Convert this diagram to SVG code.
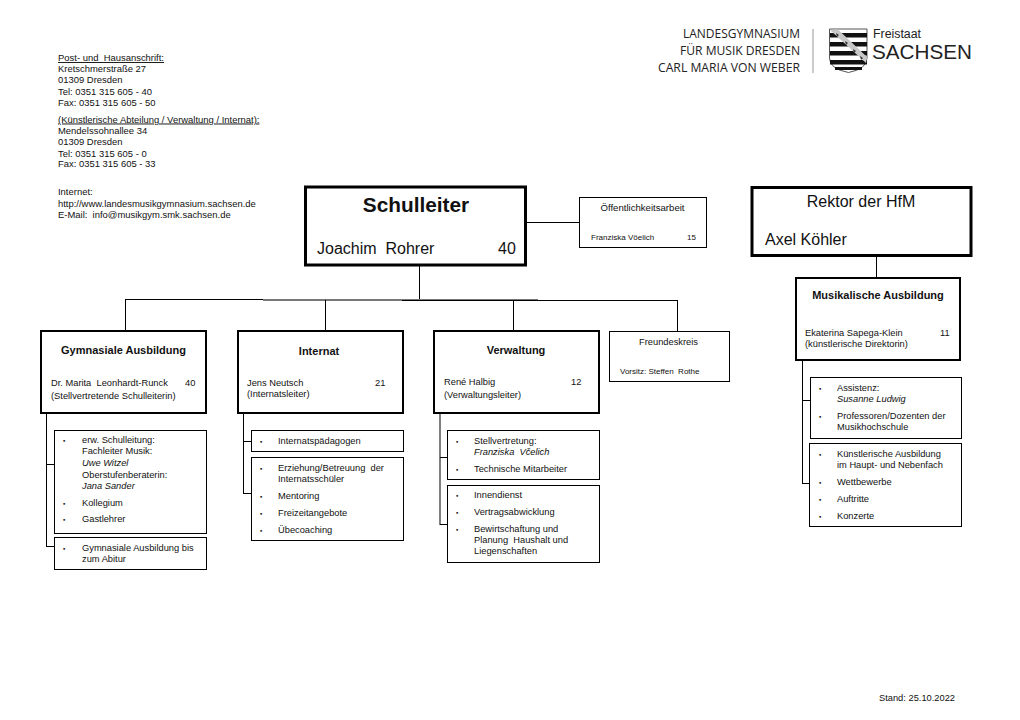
<svg xmlns="http://www.w3.org/2000/svg" width="1020" height="720" viewBox="0 0 1020 720">
<style>
text{font-family:"Liberation Sans",Arial,sans-serif;font-size:9.3px;fill:#111;white-space:pre}
.b{fill:#fff;stroke:#000;stroke-width:1}
.t{fill:#fff;stroke:#000;stroke-width:2}
.c line{stroke:#000;stroke-width:1}
.c .g{stroke:#777}
.h{font-weight:bold;font-size:11px}
.m{text-anchor:middle}
.i{font-style:italic}
.u{text-decoration:underline}
.s{font-size:8px}
.a{font-size:9.45px}
.d{font-size:6.5px}
.l{font-family:"Open Sans","Noto Sans",sans-serif;fill:#222;font-size:12.5px;text-anchor:end}
.f{fill:#222}
</style>
<rect width="1020" height="720" fill="#fff"/>
<g id="logo">
<text class="l" x="800" y="38" textLength="117" lengthAdjust="spacingAndGlyphs">LANDESGYMNASIUM</text>
<text class="l" x="800" y="54.500" textLength="120" lengthAdjust="spacingAndGlyphs">FÜR MUSIK DRESDEN</text>
<text class="l" x="800" y="71.500" textLength="142" lengthAdjust="spacingAndGlyphs">CARL MARIA VON WEBER</text>
<line x1="813" y1="29" x2="813" y2="73" stroke="#999" stroke-width="1"/>
<path d="M829.500 29H867V58Q867 69 848.500 72.500Q829.500 69 829.500 58Z" fill="#fff" stroke="#555"/>
<path d="M830 33H867V37.500H830ZM830 42H867V46.500H830ZM830 51H867V55.500H830ZM830 60H867V64.500H830ZM835 67H862V70H835Z" fill="#111"/>
<path d="M830 30L838 29.500L867 57L866 63Z" fill="#c8c8c8"/>
<path d="M836 33l3 2-2 2zM845 41l3 2-2 2zM853 49l3 2-2 2zM860 56l3 2-2 2z" fill="#333"/>
<text class="f" x="873" y="37.500" style="font-size:12.500px" textLength="48" lengthAdjust="spacingAndGlyphs">Freistaat</text>
<text class="f" x="872" y="59" style="font-size:21px" textLength="100" lengthAdjust="spacingAndGlyphs">SACHSEN</text>
</g>
<g id="address">
<text class="a u" x="58" y="61">Post- und  Hausanschrift:</text>
<text class="a" x="58" y="72">Kretschmerstraße 27</text>
<text class="a" x="58" y="83">01309 Dresden</text>
<text class="a" x="58" y="94.500">Tel: 0351 315 605 - 40</text>
<text class="a" x="58" y="105.500">Fax: 0351 315 605 - 50</text>
<text class="a u" x="58" y="122.500">(Künstlerische Abteilung / Verwaltung / Internat):</text>
<text class="a" x="58" y="134">Mendelssohnallee 34</text>
<text class="a" x="58" y="145">01309 Dresden</text>
<text class="a" x="58" y="156.500">Tel: 0351 315 605 - 0</text>
<text class="a" x="58" y="167">Fax: 0351 315 605 - 33</text>
<text class="a" x="58" y="195">Internet:</text>
<text class="a" x="58" y="206.500">http://www.landesmusikgymnasium.sachsen.de</text>
<text class="a" x="58" y="218">E-Mail:  info@musikgym.smk.sachsen.de</text>
</g>
<g id="connectors" class="c">
<line x1="526" y1="222.500" x2="580" y2="222.500"/>
<line x1="419.500" y1="266" x2="419.500" y2="300"/>
<line x1="125" y1="299.500" x2="263" y2="299.500"/>
<line class="g" x1="263" y1="300" x2="402" y2="300" style="stroke-width:2"/>
<line class="g" x1="402" y1="299.500" x2="538" y2="299.500"/>
<line x1="402" y1="300.500" x2="678" y2="300.500"/>
<line x1="125.500" y1="300" x2="125.500" y2="331"/>
<line x1="325.500" y1="300" x2="325.500" y2="331"/>
<line x1="513.500" y1="300" x2="513.500" y2="331"/>
<line x1="677.500" y1="300" x2="677.500" y2="332"/>
<line x1="876.500" y1="256" x2="876.500" y2="278"/>
<line x1="46.500" y1="413" x2="46.500" y2="547"/><line x1="46" y1="464.500" x2="56" y2="464.500"/><line x1="46" y1="546.500" x2="55" y2="546.500"/>
<line x1="243.500" y1="413" x2="243.500" y2="494"/><line x1="243" y1="441.500" x2="252" y2="441.500"/><line x1="243" y1="493.500" x2="252" y2="493.500"/>
<line x1="440" y1="413" x2="440" y2="525"/><line x1="440" y1="457.500" x2="448" y2="457.500"/><line x1="440" y1="524.500" x2="448" y2="524.500"/>
<line x1="802.500" y1="360" x2="802.500" y2="484"/><line x1="802" y1="400.500" x2="811" y2="400.500"/><line x1="802" y1="483.500" x2="810" y2="483.500"/>
</g>
<g id="schulleiter">
<rect x="305.500" y="187" width="220" height="78" fill="#fff" stroke="#000" stroke-width="3"/>
<text class="m" x="416" y="212" style="font-size:20.800px;font-weight:bold">Schulleiter</text>
<text x="317" y="254" style="font-size:16px">Joachim  Rohrer</text>
<text x="498" y="254" style="font-size:16px">40</text>
</g>
<g id="oeffentlichkeit">
<rect class="b" x="579.500" y="197.500" width="127" height="50"/>
<text class="m" x="642.500" y="211" style="font-size:9.600px">Öffentlichkeitsarbeit</text>
<text class="s" x="591" y="240">Franziska Vöelich</text>
<text class="s" x="687" y="240">15</text>
</g>
<g id="rektor">
<rect x="752" y="187.500" width="219" height="68" fill="#fff" stroke="#000" stroke-width="3"/>
<text class="m" x="861" y="207" style="font-size:16px">Rektor der HfM</text>
<text x="765" y="245" style="font-size:16px">Axel Köhler</text>
</g>
<g id="gym">
<rect class="t" x="41" y="331" width="165" height="82"/>
<text class="h m" x="123.500" y="354">Gymnasiale Ausbildung</text>
<text x="51" y="386">Dr. Marita  Leonhardt-Runck</text><text x="185" y="386">40</text>
<text x="51" y="399">(Stellvertretende Schulleiterin)</text>
</g>
<g id="internat">
<rect class="t" x="238" y="331" width="165" height="82"/>
<text class="h m" x="319" y="355">Internat</text>
<text x="247" y="386">Jens Neutsch</text><text x="375" y="386">21</text>
<text x="247" y="397">(Internatsleiter)</text>
</g>
<g id="verwaltung">
<rect class="t" x="434" y="331" width="165" height="82"/>
<text class="h m" x="516" y="354">Verwaltung</text>
<text x="444" y="385">René Halbig</text><text x="571" y="385">12</text>
<text x="444" y="398">(Verwaltungsleiter)</text>
</g>
<g id="freundeskreis">
<rect class="b" x="609.500" y="331.500" width="120" height="50"/>
<text class="m" x="668.500" y="345">Freundeskreis</text>
<text class="s" x="620" y="374">Vorsitz: Steffen  Rothe</text>
</g>
<g id="musik">
<rect class="t" x="796" y="278" width="164" height="82"/>
<text class="m h" x="878" y="299">Musikalische Ausbildung</text>
<text x="805" y="336">Ekaterina Sapega-Klein</text><text x="940" y="336">11</text>
<text x="805" y="347">(künstlerische Direktorin)</text>
</g>
<g id="gym-a">
<rect class="b" x="54.500" y="430.500" width="152" height="103"/>
<text class="d" x="63" y="443">▪</text><text x="82" y="443">erw. Schulleitung:</text>
<text x="82" y="454">Fachleiter Musik:</text>
<text class="i" x="82" y="466">Uwe Witzel</text>
<text x="82" y="478">Oberstufenberaterin:</text>
<text class="i" x="82" y="489">Jana Sander</text>
<text class="d" x="63" y="506">▪</text><text x="82" y="506">Kollegium</text>
<text class="d" x="63" y="522">▪</text><text x="82" y="522">Gastlehrer</text>
</g>
<g id="gym-b">
<rect class="b" x="54.500" y="537.500" width="152" height="32"/>
<text class="d" x="63" y="551">▪</text><text x="82" y="551">Gymnasiale Ausbildung bis</text>
<text x="82" y="562">zum Abitur</text>
</g>
<g id="int-a">
<rect class="b" x="251.500" y="430.500" width="152" height="21"/>
<text class="d" x="260" y="444">▪</text><text x="278" y="444">Internatspädagogen</text>
</g>
<g id="int-b">
<rect class="b" x="251.500" y="457.500" width="152" height="83"/>
<text class="d" x="260" y="471">▪</text><text x="278" y="471">Erziehung/Betreuung  der</text>
<text x="278" y="482">Internatsschüler</text>
<text class="d" x="260" y="499">▪</text><text x="278" y="499">Mentoring</text>
<text class="d" x="260" y="516">▪</text><text x="278" y="516">Freizeitangebote</text>
<text class="d" x="260" y="533">▪</text><text x="278" y="533">Übecoaching</text>
</g>
<g id="ver-a">
<rect class="b" x="447.500" y="430.500" width="152" height="49"/>
<text class="d" x="456" y="444">▪</text><text x="474" y="444">Stellvertretung:</text>
<text class="i" x="474" y="455">Franziska  Včelich</text>
<text class="d" x="456" y="472">▪</text><text x="474" y="472">Technische Mitarbeiter</text>
</g>
<g id="ver-b">
<rect class="b" x="447.500" y="485.500" width="152" height="77"/>
<text class="d" x="456" y="498">▪</text><text x="474" y="498">Innendienst</text>
<text class="d" x="456" y="515">▪</text><text x="474" y="515">Vertragsabwicklung</text>
<text class="d" x="456" y="532">▪</text><text x="474" y="532">Bewirtschaftung und</text>
<text x="474" y="543">Planung  Haushalt und</text>
<text x="474" y="554">Liegenschaften</text>
</g>
<g id="mus-a">
<rect class="b" x="810.500" y="377.500" width="151" height="61"/>
<text class="d" x="819" y="391">▪</text><text x="837" y="391">Assistenz:</text>
<text class="i" x="837" y="402">Susanne Ludwig</text>
<text class="d" x="819" y="419">▪</text><text x="837" y="419">Professoren/Dozenten der</text>
<text x="837" y="430">Musikhochschule</text>
</g>
<g id="mus-b">
<rect class="b" x="809.500" y="443.500" width="152" height="83"/>
<text class="d" x="819" y="457">▪</text><text x="837" y="457">Künstlerische Ausbildung</text>
<text x="837" y="468">im Haupt- und Nebenfach</text>
<text class="d" x="819" y="485">▪</text><text x="837" y="485">Wettbewerbe</text>
<text class="d" x="819" y="502">▪</text><text x="837" y="502">Auftritte</text>
<text class="d" x="819" y="519">▪</text><text x="837" y="519">Konzerte</text>
</g>
<text x="879" y="701">Stand: 25.10.2022</text>
</svg>
